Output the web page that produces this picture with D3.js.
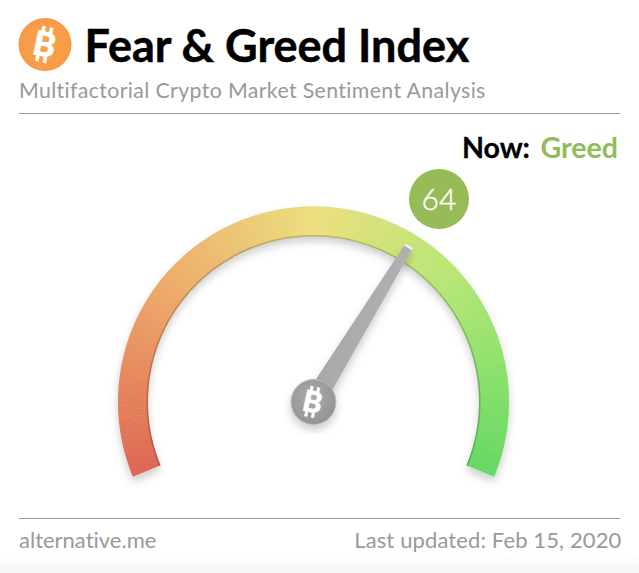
<!DOCTYPE html>
<html><head><meta charset="utf-8">
<script src="https://cdn.jsdelivr.net/npm/d3@7"></script>
<style>html,body{margin:0;padding:0;background:#fff;overflow:hidden}svg{display:block}text{font-family:Lato,sans-serif;font-variant-ligatures:none}</style>
</head><body><svg id="c" width="639" height="573"></svg>
<script>
const titleText = "Fear & Greed Index";
const subtitleText = "Multifactorial Crypto Market Sentiment Analysis";
const nowLabel = "Now:";
const classification = "Greed";
const indexValue = 64;
const sourceText = "alternative.me";
const updatedText = "Last updated: Feb 15, 2020";
const colorStops = [0, 25, 50, 72, 100];
const colorValues = ["#dd6753", "#eda668", "#ecdf7e", "#b5e776", "#63d963"];

const svg = d3.select("#c");
const defs = svg.append("defs");
const bg = defs.append("linearGradient").attr("id","bg").attr("x1",0).attr("x2",0).attr("y1",0).attr("y2",1);
bg.append("stop").attr("offset","0").attr("stop-color","#fff");
bg.append("stop").attr("offset","1").attr("stop-color","#f6f6f6");
const sh = defs.append("filter").attr("id","sh").attr("x","-20%").attr("y","-20%").attr("width","140%").attr("height","140%");
sh.append("feDropShadow").attr("dx",0).attr("dy",5).attr("stdDeviation",4).attr("flood-color","#000").attr("flood-opacity",0.2);
const ball = defs.append("radialGradient").attr("id","ball").attr("cx","0.45").attr("cy","0.4").attr("r","0.65");
ball.append("stop").attr("offset","0").attr("stop-color","#adadad");
ball.append("stop").attr("offset","1").attr("stop-color","#919191");
const needleFill = defs.append("linearGradient").attr("id","needleFill").attr("x1",0).attr("x2",1).attr("y1",0).attr("y2",0.6);
needleFill.append("stop").attr("offset","0").attr("stop-color","#999");
needleFill.append("stop").attr("offset","1").attr("stop-color","#b9b9b9");
const orange = defs.append("radialGradient").attr("id","orange");
orange.append("stop").attr("offset","0").attr("stop-color","#f9a44f");
orange.append("stop").attr("offset","1").attr("stop-color","#f79a45");

svg.append("rect").attr("x",0).attr("y",552).attr("width",639).attr("height",21).attr("fill","url(#bg)");

function btc(g, cx, cy, size){
  const t = g.append("g").attr("transform",`translate(${cx},${cy}) rotate(12)`);
  t.selectAll("rect").data([[-0.2,-0.6],[0.06,-0.6],[-0.2,0.4],[0.06,0.4]]).join("rect")
    .attr("x",d=>d[0]*size).attr("y",d=>d[1]*size).attr("width",size*0.12).attr("height",size*0.2).attr("fill","#fff");
  t.append("text").attr("text-anchor","middle").attr("y",size*0.39).attr("font-size",size*1.12).attr("font-weight",900)
    .attr("stroke","#fff").attr("stroke-width",size*0.02).attr("fill","#fff").text("B");
}

// header
svg.append("circle").attr("cx",45).attr("cy",44.5).attr("r",26.5).attr("fill","url(#orange)");
btc(svg,44.5,44.5,30);
svg.append("text").attr("x",84.5).attr("y",62).attr("font-size",45).attr("font-weight",700)
  .attr("stroke","#000").attr("stroke-width",0.5).attr("fill","#000").text(titleText);
svg.append("text").attr("x",19).attr("y",98).attr("font-size",21.3).attr("fill","#999").attr("letter-spacing",0.37).text(subtitleText);
svg.selectAll("line.rule").data([113,518]).join("line").attr("class","rule")
  .attr("x1",19).attr("x2",620).attr("y1",d=>d+.5).attr("y2",d=>d+.5).attr("stroke","#999").attr("stroke-width",1);

svg.append("text").attr("x",530).attr("y",158).attr("text-anchor","end").attr("font-size",28.6).attr("font-weight",700)
  .attr("stroke","#000").attr("stroke-width",0.3).attr("fill","#000").text(nowLabel);
svg.append("text").attr("x",618).attr("y",158).attr("text-anchor","end").attr("font-size",28.6).attr("font-weight",700).attr("fill","#93bb5c").text(classification);

// gauge
const cx = 313.5, cy = 402, rO = 195.5, rI = 166;
const angle = d3.scaleLinear().domain([0,100]).range([-112.5*Math.PI/180, 112.5*Math.PI/180]);
const color = d3.scaleLinear().domain(colorStops).range(colorValues);
const gauge = svg.append("g").attr("transform",`translate(${cx},${cy})`);
const arc = d3.arc().innerRadius(rI).outerRadius(rO);
gauge.append("path").attr("d",arc({startAngle:angle(0),endAngle:angle(100)})).attr("fill","#ddd").attr("filter","url(#sh)");
const steps = d3.range(0,100,0.5);
gauge.append("g").selectAll("path").data(steps).join("path")
  .attr("d",d=>arc({startAngle:angle(d),endAngle:angle(Math.min(100,d+0.56))}))
  .attr("fill",d=>color(d+0.25));
// darker inner edge
const edge = d3.arc().innerRadius(rI-0.5).outerRadius(rI+1);
gauge.append("g").selectAll("path").data(steps).join("path")
  .attr("d",d=>edge({startAngle:angle(d),endAngle:angle(Math.min(100,d+0.56))}))
  .attr("fill",d=>d3.color(color(d+0.25)).darker(0.6));

// needle
const a = angle(indexValue);
const len = 182, wBase = 10.5, wTip = 4.4;
const ux = Math.sin(a), uy = -Math.cos(a), nx = Math.cos(a), ny = Math.sin(a);
const needle = [[wBase,0],[wTip,len],[-wTip,len],[-wBase,0]].map(([w,l])=>[ux*l+nx*w, uy*l+ny*w]);
const needleG = svg.append("g").attr("transform",`translate(${cx},${cy})`);
needleG.append("path").attr("d",d3.line()(needle)+"Z").attr("fill","url(#needleFill)").attr("filter","url(#sh)");
needleG.append("path").attr("d",d3.line()([[ux*len+nx*wTip,uy*len+ny*wTip],[ux*len-nx*wTip,uy*len-ny*wTip]])).attr("stroke","#eee").attr("stroke-width",2.5);
needleG.append("circle").attr("r",22.5).attr("fill","url(#ball)").attr("stroke","#bbb").attr("stroke-width",1).attr("filter","url(#sh)");
btc(needleG,-1,0,26);

// value bubble
svg.append("circle").attr("cx",439).attr("cy",199).attr("r",30).attr("fill","#97bb56");
svg.append("text").attr("x",439).attr("y",210).attr("text-anchor","middle").attr("font-size",30).attr("font-weight",300)
  .attr("stroke","#fff").attr("stroke-width",0.4).attr("fill","#fff").text(indexValue);

// footer
svg.append("text").attr("x",19).attr("y",548).attr("font-size",22).attr("fill","#999").text(sourceText);
svg.append("text").attr("x",621.5).attr("y",548).attr("text-anchor","end").attr("font-size",22).attr("letter-spacing",0.12).attr("fill","#999").text(updatedText);
</script></body></html>
